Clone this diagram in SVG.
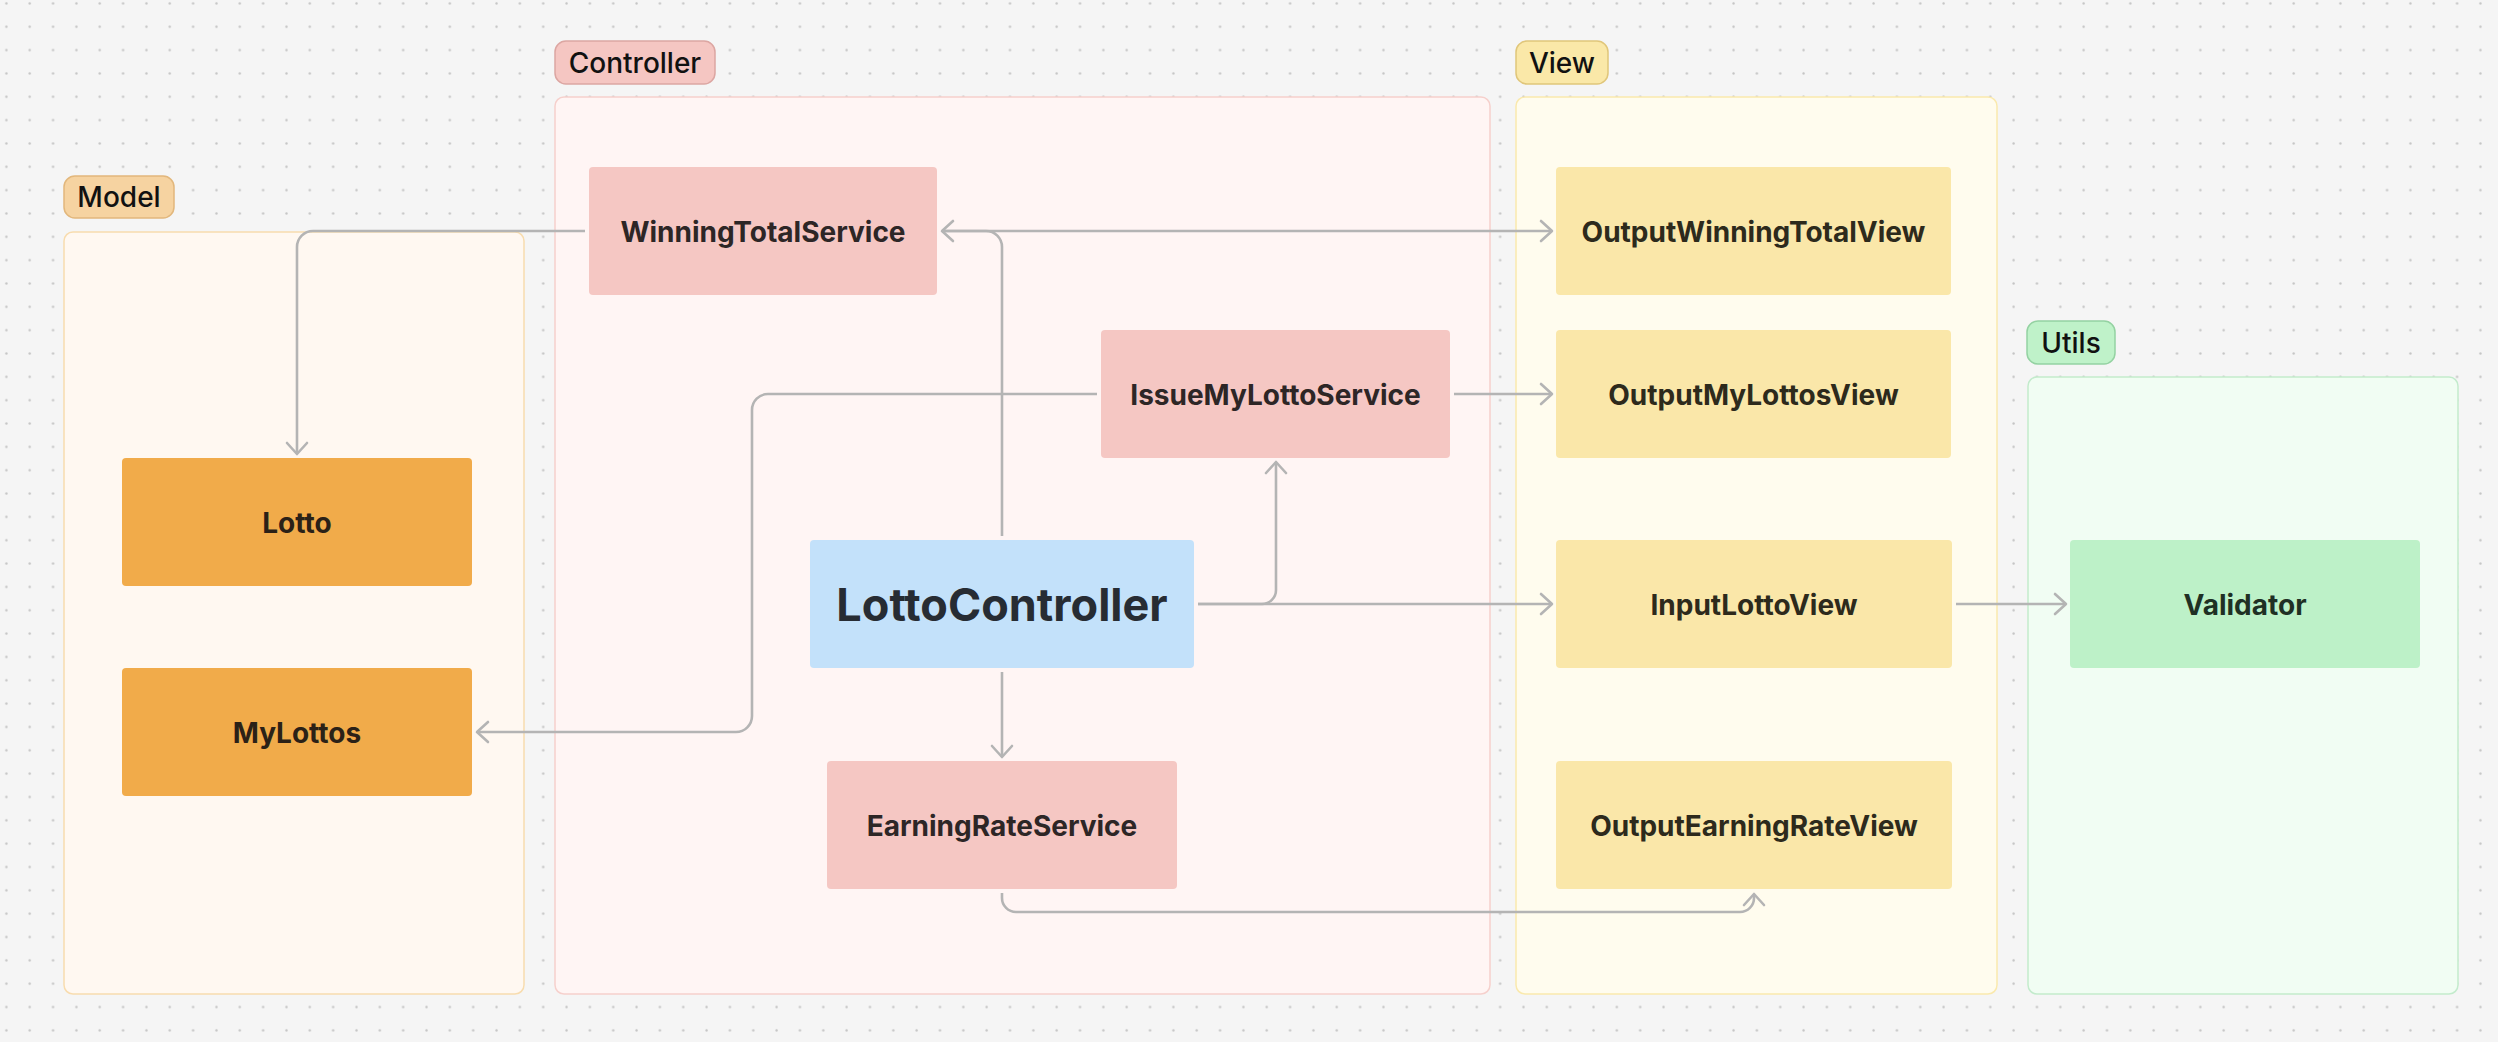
<svg xmlns="http://www.w3.org/2000/svg" width="2498" height="1042" viewBox="0 0 2498 1042">
<defs>
<pattern id="dots" patternUnits="userSpaceOnUse" x="0" y="0" width="23.34" height="23.34">
<circle cx="6.4" cy="3.4" r="1.2" fill="#c4c4c4"/>
</pattern>
<marker id="arr" markerUnits="userSpaceOnUse" markerWidth="18" markerHeight="26" viewBox="-14 -13 18 26" refX="0" refY="0" orient="auto">
<path d="M-11,-10 L0,0 L-11,10" fill="none" stroke="#b4b4b4" stroke-width="2.6" stroke-linecap="round" stroke-linejoin="round"/>
</marker>
<style>
.lbl{font-family:Inter,"Liberation Sans",sans-serif;font-size:28px;font-weight:500;fill:#111;text-anchor:middle}
.nt{font-family:Inter,"Liberation Sans",sans-serif;font-size:28px;font-weight:700;text-anchor:middle}
.big{font-size:45px}
.edge{fill:none;stroke:#b4b4b4;stroke-width:2.6;marker-end:url(#arr)}
.model-c{fill:#fff8f1;stroke:#f8dcae;stroke-width:1.5}
.ctrl-c{fill:#fff5f4;stroke:#f6d0cc;stroke-width:1.5}
.view-c{fill:#fffcee;stroke:#fae9ad;stroke-width:1.5}
.utils-c{fill:#f1fdf3;stroke:#c3ebcc;stroke-width:1.5}
.model-l{fill:#f6d3a1;stroke:#e2b77c;stroke-width:1.5}
.ctrl-l{fill:#f5c6c2;stroke:#dca6a2;stroke-width:1.5}
.view-l{fill:#fae8a8;stroke:#e0c67a;stroke-width:1.5}
.utils-l{fill:#bff2c9;stroke:#94d2a2;stroke-width:1.5}
.orange{fill:#f1ab4a}
.pink{fill:#f5c7c3}
.yellow{fill:#fae7a9}
.blue{fill:#c3e1fa}
.green{fill:#bdf1c8}
.t-orange{fill:#2b2117}
.t-pink{fill:#2d2626}
.t-yellow{fill:#2d2a1c}
.t-blue{fill:#272c33}
.t-green{fill:#1f3024}
</style>
</defs>
<rect x="0" y="0" width="2498" height="1042" fill="#f5f5f5"/>
<rect x="0" y="0" width="2498" height="1042" fill="url(#dots)"/>

<g id="containers">
<g id="model-section">
<rect class="model-c" x="64" y="232" width="460" height="762" rx="9"/>
<rect class="model-l" x="64" y="176" width="110" height="42" rx="11"/>
<text class="lbl" x="119" y="207">Model</text>
</g>
<g id="controller-section">
<rect class="ctrl-c" x="555" y="97" width="935" height="897" rx="9"/>
<rect class="ctrl-l" x="555" y="41" width="160" height="43" rx="11"/>
<text class="lbl" x="635" y="73">Controller</text>
</g>
<g id="view-section">
<rect class="view-c" x="1516" y="97" width="481" height="897" rx="9"/>
<rect class="view-l" x="1516" y="41" width="92" height="43" rx="11"/>
<text class="lbl" x="1562" y="73">View</text>
</g>
<g id="utils-section">
<rect class="utils-c" x="2028" y="377" width="430" height="617" rx="9"/>
<rect class="utils-l" x="2027" y="321" width="88" height="43" rx="11"/>
<text class="lbl" x="2071" y="353">Utils</text>
</g>
</g>

<g id="connectors">
<path class="edge" d="M585,231 H313 A16,16 0 0 0 297,247 V454"/>
<path class="edge" d="M1002,536 V247 A16,16 0 0 0 986,231 H942"/>
<path class="edge" d="M942,231 H1552"/>
<path class="edge" d="M1097,394 H768 A16,16 0 0 0 752,410 V716 A16,16 0 0 1 736,732 H477"/>
<path class="edge" d="M1454,394 H1552"/>
<path class="edge" d="M1198,604 H1552"/>
<path class="edge" d="M1198,604 H1262 A14,14 0 0 0 1276,590 V462"/>
<path class="edge" d="M1002,672 V757"/>
<path class="edge" d="M1002,893 V898 A14,14 0 0 0 1016,912 H1740 A14,14 0 0 0 1754,898 V894"/>
<path class="edge" d="M1956,604 H2066"/>
</g>

<g id="node-WinningTotalService">
<rect class="pink" x="589" y="167" width="348" height="128" rx="4"/>
<text class="nt t-pink" x="763" y="241.5">WinningTotalService</text>
</g>
<g id="node-IssueMyLottoService">
<rect class="pink" x="1101" y="330" width="349" height="128" rx="4"/>
<text class="nt t-pink" x="1275.5" y="404.5">IssueMyLottoService</text>
</g>
<g id="node-LottoController">
<rect class="blue" x="810" y="540" width="384" height="128" rx="4"/>
<text class="nt big t-blue" x="1002" y="621">LottoController</text>
</g>
<g id="node-EarningRateService">
<rect class="pink" x="827" y="761" width="350" height="128" rx="4"/>
<text class="nt t-pink" x="1002" y="835.5">EarningRateService</text>
</g>
<g id="node-Lotto">
<rect class="orange" x="122" y="458" width="350" height="128" rx="4"/>
<text class="nt t-orange" x="297" y="532.5">Lotto</text>
</g>
<g id="node-MyLottos">
<rect class="orange" x="122" y="668" width="350" height="128" rx="4"/>
<text class="nt t-orange" x="297" y="742.5">MyLottos</text>
</g>
<g id="node-OutputWinningTotalView">
<rect class="yellow" x="1556" y="167" width="395" height="128" rx="4"/>
<text class="nt t-yellow" x="1753.5" y="241.5">OutputWinningTotalView</text>
</g>
<g id="node-OutputMyLottosView">
<rect class="yellow" x="1556" y="330" width="395" height="128" rx="4"/>
<text class="nt t-yellow" x="1753.5" y="404.5">OutputMyLottosView</text>
</g>
<g id="node-InputLottoView">
<rect class="yellow" x="1556" y="540" width="396" height="128" rx="4"/>
<text class="nt t-yellow" x="1754" y="614.5">InputLottoView</text>
</g>
<g id="node-OutputEarningRateView">
<rect class="yellow" x="1556" y="761" width="396" height="128" rx="4"/>
<text class="nt t-yellow" x="1754" y="835.5">OutputEarningRateView</text>
</g>
<g id="node-Validator">
<rect class="green" x="2070" y="540" width="350" height="128" rx="4"/>
<text class="nt t-green" x="2245" y="614.5">Validator</text>
</g>
</svg>
